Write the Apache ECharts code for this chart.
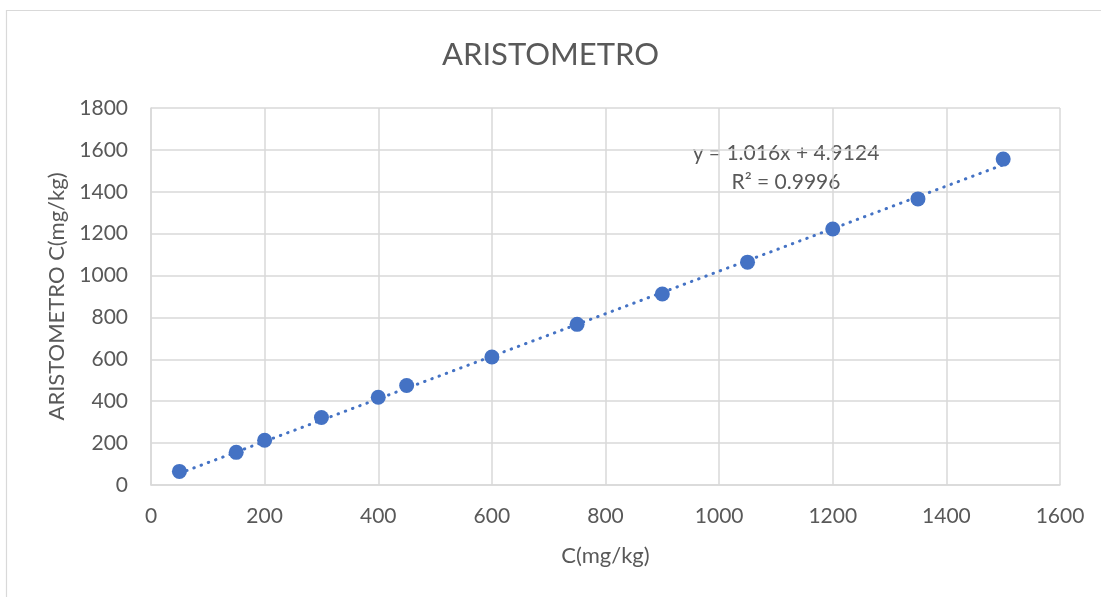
<!DOCTYPE html>
<html>
<head>
<meta charset="utf-8">
<script src="https://cdn.jsdelivr.net/npm/echarts@6/dist/echarts.min.js"></script>
<style>
html,body{margin:0;padding:0;background:#fff;}
#chart{width:1101px;height:597px;}
</style>
</head>
<body>
<div id="chart"></div>
<script>
// Data
const xValues = [50, 150, 200, 300, 400, 450, 600, 750, 900, 1050, 1200, 1350, 1500];
const yValues = [65, 156, 214, 322, 419, 475, 611, 767, 912, 1064, 1222, 1366, 1556];
const trendSlope = 1.016;
const trendIntercept = 4.9124;
const trendText = ['y = 1.016x + 4.9124', 'R² = 0.9996'];
const xTicks = [0, 200, 400, 600, 800, 1000, 1200, 1400, 1600];
const yTicks = [0, 200, 400, 600, 800, 1000, 1200, 1400, 1600, 1800];

const points = xValues.map((x, i) => [x, yValues[i]]);
const xMin = Math.min(...xValues), xMax = Math.max(...xValues);
const trend = [[xMin, trendSlope * xMin + trendIntercept], [xMax, trendSlope * xMax + trendIntercept]];

const FONT = 'Lato, "Open Sans", sans-serif';
const TXT = '#595959';
const GRID = '#d9d9d9';
const BLUE = '#4472C4';

const chart = echarts.init(document.getElementById('chart'), null, {renderer: 'canvas'});
chart.setOption({
  animation: false,
  backgroundColor: '#ffffff',
  title: {
    text: 'ARISTOMETRO',
    left: 'center',
    top: 34,
    textStyle: {fontFamily: FONT, fontSize: 31, fontWeight: 'normal', color: TXT}
  },
  grid: {left: 151, top: 108, right: 41, bottom: 112, containLabel: false},
  xAxis: {
    type: 'value',
    min: xTicks[0], max: xTicks[xTicks.length - 1], interval: 200,
    name: 'C(mg/kg)', nameLocation: 'middle', nameGap: 60,
    nameTextStyle: {fontFamily: FONT, fontSize: 22, color: TXT},
    axisLine: {show: true, lineStyle: {color: GRID, width: 1.5}},
    axisTick: {show: false},
    axisLabel: {fontFamily: FONT, fontSize: 21, color: TXT, margin: 21, formatter: v => String(v)},
    splitLine: {show: true, lineStyle: {color: GRID, width: 1.5}}
  },
  yAxis: {
    type: 'value',
    min: yTicks[0], max: yTicks[yTicks.length - 1], interval: 200,
    name: 'ARISTOMETRO C(mg/kg)', nameLocation: 'middle', nameGap: 83, nameRotate: 90,
    nameTextStyle: {fontFamily: FONT, fontSize: 22, color: TXT},
    axisLine: {show: true, lineStyle: {color: GRID, width: 1.5}},
    axisTick: {show: false},
    axisLabel: {fontFamily: FONT, fontSize: 21, color: TXT, margin: 23, formatter: v => String(v)},
    splitLine: {show: true, lineStyle: {color: GRID, width: 1.5}}
  },
  series: [
    {
      type: 'line',
      data: trend,
      symbol: 'none',
      silent: true,
      lineStyle: {color: BLUE, width: 3, type: [0.5, 7.2], cap: 'round'},
      z: 2
    },
    {
      type: 'scatter',
      data: points,
      symbol: 'circle',
      symbolSize: 15,
      itemStyle: {color: BLUE, opacity: 1},
      z: 3
    }
  ],
  graphic: [
    {
      type: 'rect',
      shape: {x: 6.5, y: 10.5, width: 1200, height: 700},
      style: {fill: 'none', stroke: GRID, lineWidth: 1.2},
      silent: true
    },
    {
      type: 'text',
      x: 786, y: 153,
      style: {text: trendText[0], fontFamily: FONT, fontSize: 21, fill: TXT, align: 'center', verticalAlign: 'middle'}
    },
    {
      type: 'text',
      x: 786, y: 182,
      style: {text: trendText[1], fontFamily: FONT, fontSize: 21, fill: TXT, align: 'center', verticalAlign: 'middle'}
    }
  ]
});
</script>
</body>
</html>
